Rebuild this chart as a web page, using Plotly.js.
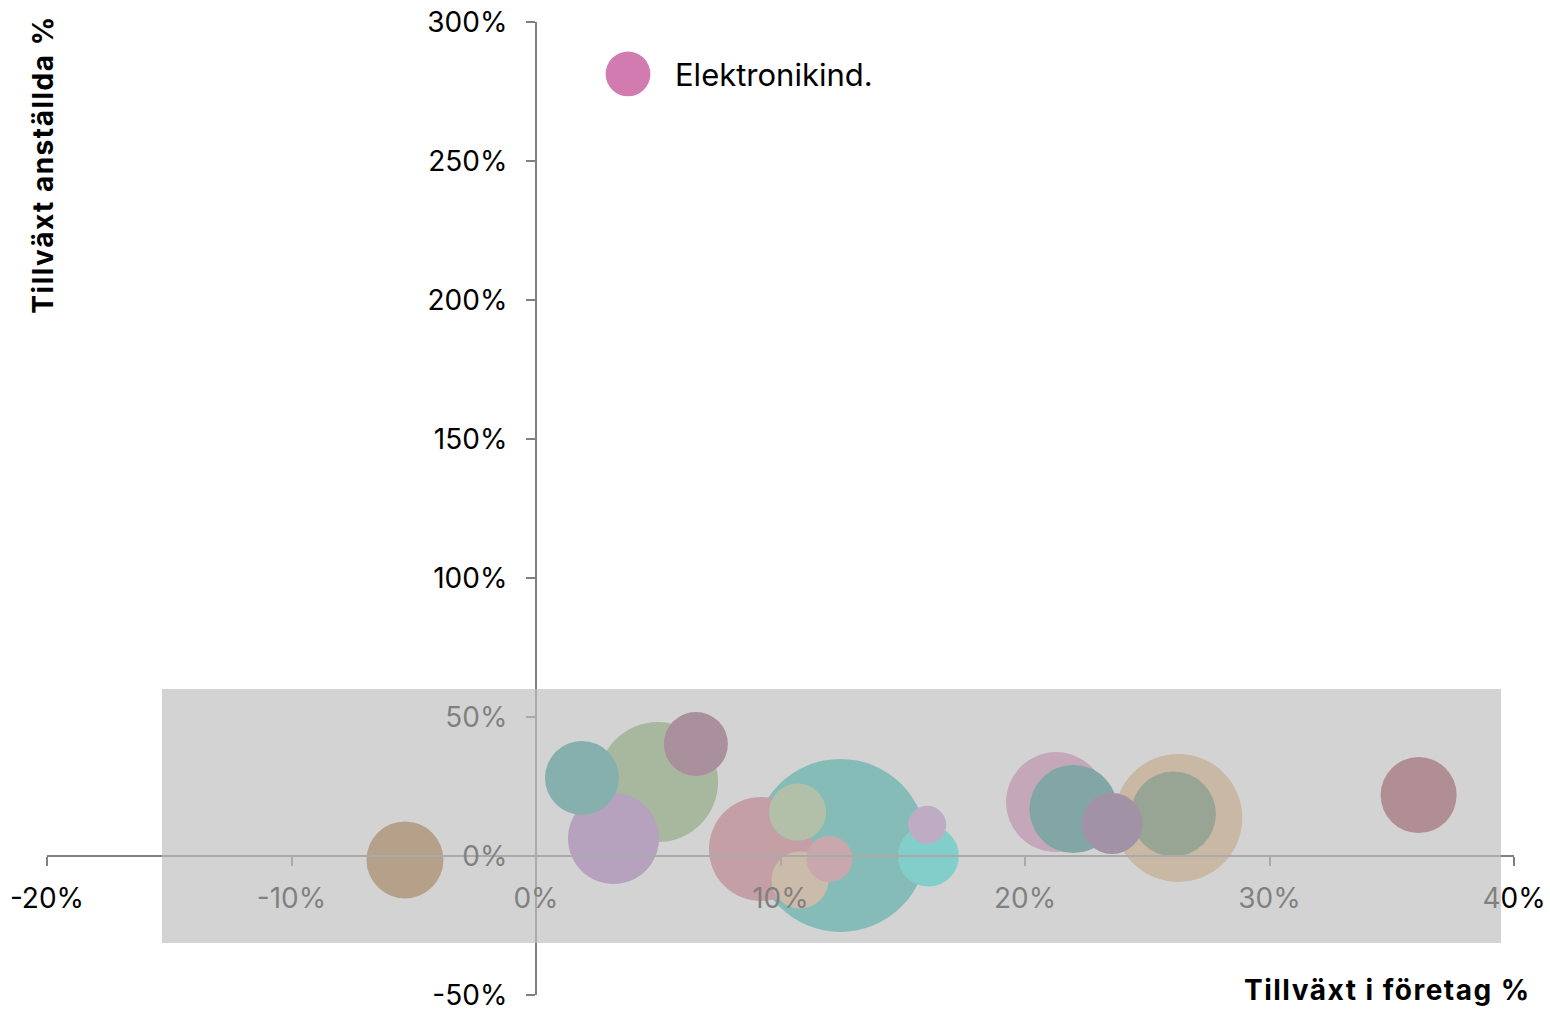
<!DOCTYPE html>
<html>
<head>
<meta charset="utf-8">
<script src="https://cdn.plot.ly/plotly-3.0.1.min.js"></script>
<style>
  html, body { margin: 0; padding: 0; background: #ffffff; }
  #chart { width: 1550px; height: 1009px; }
  #chart .annotation-text { letter-spacing: 1.5px; }
</style>
</head>
<body>
<div id="chart"></div>
<script>
// ---- data ----
const industries = ["", "", "", "", "", "", "", "", "", "", "", "Elektronikind.", "", "", "", "", "", ""];
const growthCompanies = [4.99, 3.17, 1.88, 6.54, 12.45, 9.2, 10.7, 10.8, 12.0, 16.05, 16.0, 21.27, 21.98, 26.27, 26.07, 23.56, -5.36, 36.1];
const growthEmployees = [26.6, 6.3, 28.1, 40.3, 3.8, 2.5, 15.8, -8.6, -1.1, 0.0, 11.2, 19.4, 16.9, 13.7, 15.1, 11.7, -1.4, 21.9];
const bubbleSize = [120, 91, 74, 64, 173, 104, 57, 57, 46, 61, 38, 100, 88, 128, 85, 61, 77, 76];
const bubbleColors = ["#7bac5c", "#a666bf", "#12948e", "#812e59", "#12b9ac", "#d16275", "#9ac581",
  "#e7b681", "#de7b87", "#09f0e4", "#bf87d1", "#d17bb0", "#097572", "#e1ac6c", "#4a723e", "#663775", "#a3661c", "#942b3e"];
const legendIndex = 11;

const xTickVals = [-20, -10, 0, 10, 20, 30, 40];
const xTickText = ["-20%", "-10%", "0%", "10%", "20%", "30%", "40%"];
const yTickVals = [-50, 0, 50, 100, 150, 200, 250, 300];
const yTickText = ["-50%", "0%", "50%", "100%", "150%", "200%", "250%", "300%"];
const xRange = [-20, 40];
const yRange = [-50, 300];
const highlightX = [-15.3, 39.47];
const highlightY = [-31.3, 60.1];

const xTitle = "Tillväxt i företag %";
const yTitle = "Tillväxt anställda %";

// ---- traces ----
const FONT = "Inter, Lato, 'Noto Sans', sans-serif";
const traces = growthCompanies.map((x, i) => ({
  type: "scatter",
  mode: "markers",
  x: [x],
  y: [growthEmployees[i]],
  name: industries[i] || ("Bransch " + (i + 1)),
  showlegend: i === legendIndex,
  marker: { size: [bubbleSize[i]], sizemode: "diameter", sizeref: 1, color: bubbleColors[i], opacity: 1, line: { width: 0 } },
  hoverinfo: "x+y+name"
}));

const axisCommon = {
  showgrid: false, zeroline: false, showline: true, linecolor: "#808080", linewidth: 2,
  ticks: "outside", ticklen: 9, tickwidth: 2, tickcolor: "#808080",
  tickfont: { family: FONT, size: 28, color: "#000000" },
  anchor: "free", fixedrange: true, ticklabeloverflow: "allow"
};

const layout = {
  width: 1550, height: 1009,
  margin: { l: 47, r: 36, t: 22, b: 14, pad: 0 },
  paper_bgcolor: "#ffffff", plot_bgcolor: "#ffffff",
  font: { family: FONT, color: "#000000" },
  xaxis: Object.assign({}, axisCommon, {
    range: xRange, tickvals: xTickVals, ticktext: xTickText,
    position: (0 - yRange[0]) / (yRange[1] - yRange[0]), ticklabelstandoff: 8
  }),
  yaxis: Object.assign({}, axisCommon, {
    range: yRange, tickvals: yTickVals, ticktext: yTickText,
    position: (0 - xRange[0]) / (xRange[1] - xRange[0]), ticklabelstandoff: 13
  }),
  showlegend: true,
  legend: {
    x: 0.364, xanchor: "left", y: 0.974, yanchor: "top",
    font: { family: FONT, size: 31, color: "#000000" },
    itemwidth: 84, bgcolor: "rgba(0,0,0,0)", borderwidth: 0
  },
  shapes: [{
    type: "rect", xref: "x", yref: "y",
    x0: highlightX[0], x1: highlightX[1], y0: highlightY[0], y1: highlightY[1],
    fillcolor: "rgba(190,190,190,0.675)", line: { width: 0 }, layer: "above"
  }],
  annotations: [
    { text: "<b>" + yTitle + "</b>", xref: "paper", yref: "paper", x: -0.003, y: 0.853, textangle: -90,
      showarrow: false, xanchor: "center", yanchor: "middle", font: { family: FONT, size: 28, weight: 800, color: "#000" } },
    { text: "<b>" + xTitle + "</b>", xref: "paper", yref: "paper", x: 1.0024, y: 0.005, xanchor: "right", yanchor: "middle",
      showarrow: false, font: { family: FONT, size: 28, weight: 800, color: "#000" } }
  ],
  hovermode: "closest"
};

Plotly.newPlot("chart", traces, layout, { displayModeBar: false, staticPlot: false }).then(() => {
  document.querySelectorAll(".legend .legendpoints path.scatterpts").forEach(p => {
    const t = p.getAttribute("transform") || "";
    p.setAttribute("transform", t + " scale(2.8)");
  });
});
</script>
</body>
</html>
